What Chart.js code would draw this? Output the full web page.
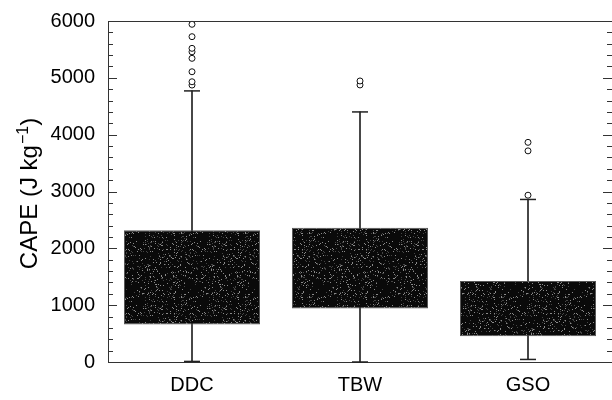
<!DOCTYPE html>
<html>
<head>
<meta charset="utf-8">
<script src="https://cdn.jsdelivr.net/npm/chart.js@4/dist/chart.umd.min.js"></script>
<style>
  html, body { margin: 0; padding: 0; background: #fff; overflow: hidden; }
  #wrap { width: 612px; height: 400px; }
</style>
</head>
<body>
<div id="wrap"><canvas id="c" width="612" height="400"></canvas></div>
<script>
// ---- data ----
const categories = ['DDC', 'TBW', 'GSO'];
const q1 = [660, 940, 455];
const q3 = [2320, 2360, 1425];
const whiskerLow = [10, 0, 45];
const whiskerHigh = [4770, 4400, 2860];
const outliersDDC = [4873, 4931, 5107, 5343, 5458, 5519, 5724, 5942];
const outliersTBW = [4875, 4945];
const outliersGSO = [2935, 3715, 3865];
const yMin = 0, yMax = 6000, yStep = 1000, yMinorStep = 200;
const yTitleMain = 'CAPE (J kg';
const yTitleSup = '\u22121';
const yTitleEnd = ')';

const FONT = "'Liberation Sans', Arial, Helvetica, sans-serif";

// ---- speckled dark fill (style only, deterministic hash) ----
function makePattern() {
  const p = document.createElement('canvas');
  p.width = 64; p.height = 64;
  const g = p.getContext('2d');
  g.fillStyle = '#0a0a0a';
  g.fillRect(0, 0, p.width, p.height);
  for (let i = 0; i < p.width; i++) {
    for (let j = 0; j < p.height; j++) {
      let h = Math.imul(i, 374761393) + Math.imul(j, 668265263);
      h = Math.imul(h ^ (h >>> 13), 1274126177);
      h = (h ^ (h >>> 16)) >>> 0;
      const r = h % 100;
      if (r < 5) { g.fillStyle = '#8a8a8a'; g.fillRect(i, j, 1, 1); }
      else if (r < 11) { g.fillStyle = '#444'; g.fillRect(i, j, 1, 1); }
    }
  }
  return g.createPattern(p, 'repeat');
}
const boxFill = makePattern();

const outlierPoints = []
  .concat(outliersDDC.map(v => ({x: 'DDC', y: v})))
  .concat(outliersTBW.map(v => ({x: 'TBW', y: v})))
  .concat(outliersGSO.map(v => ({x: 'GSO', y: v})));

const frameTicks = {
  id: 'frameTicks',
  afterDatasetsDraw(chart) {
    const {ctx, chartArea: a, scales: {y}} = chart;
    ctx.save();
    ctx.strokeStyle = '#333';
    ctx.lineWidth = 1;
    ctx.beginPath();
    ctx.moveTo(a.left, Math.round(a.top) + 0.5);
    ctx.lineTo(a.right, Math.round(a.top) + 0.5);
    ctx.stroke();
    for (let v = yMin; v <= yMax; v += yMinorStep) {
      const py = Math.round(y.getPixelForValue(v)) + 0.5;
      const major = v % yStep === 0;
      const len = major ? 9 : 5;
      ctx.beginPath();
      ctx.moveTo(a.left, py); ctx.lineTo(a.left + len, py);
      ctx.moveTo(a.right, py); ctx.lineTo(a.right - len, py);
      ctx.stroke();
    }
    ctx.restore();
  }
};

// y-axis title with a real superscript, centred on the y scale
const yTitlePlugin = {
  id: 'yTitle',
  afterDraw(chart) {
    const {ctx, scales: {y}} = chart;
    const mainFont = '24px ' + FONT;
    const supFont = '16px ' + FONT;
    ctx.save();
    ctx.font = mainFont;
    const w1 = ctx.measureText(yTitleMain).width;
    const w3 = ctx.measureText(yTitleEnd).width;
    ctx.font = supFont;
    const w2 = ctx.measureText(yTitleSup).width + 1;
    const total = w1 + w2 + w3;
    const cy = (y.top + y.bottom) / 2 + 2;
    ctx.translate(37, cy);
    ctx.rotate(-Math.PI / 2);
    ctx.fillStyle = '#000';
    ctx.textBaseline = 'alphabetic';
    ctx.textAlign = 'left';
    const x0 = -total / 2;
    ctx.font = mainFont;
    ctx.fillText(yTitleMain, x0, 0);
    ctx.font = supFont;
    ctx.fillText(yTitleSup, x0 + w1 + 1, -9);
    ctx.font = mainFont;
    ctx.fillText(yTitleEnd, x0 + w1 + w2, 0);
    ctx.restore();
  }
};

new Chart(document.getElementById('c'), {
  type: 'bar',
  data: {
    labels: categories,
    datasets: [
      {
        type: 'line', label: 'outliers', data: outlierPoints, showLine: false,
        pointStyle: 'circle', pointRadius: 3, pointBorderWidth: 1,
        pointBorderColor: '#111', pointBackgroundColor: '#fff', clip: false, order: 0
      },
      {
        type: 'line', label: 'upper cap', data: whiskerHigh, showLine: false,
        pointStyle: 'line', pointRadius: 8, pointBorderWidth: 1.5,
        pointBorderColor: '#222', clip: false, order: 0
      },
      {
        type: 'line', label: 'lower cap', data: whiskerLow, showLine: false,
        pointStyle: 'line', pointRadius: 8, pointBorderWidth: 1.5,
        pointBorderColor: '#222', clip: false, order: 0
      },
      {
        label: 'box',
        data: categories.map((c, i) => [q1[i], q3[i]]),
        backgroundColor: boxFill, borderColor: '#555', borderWidth: 1,
        borderSkipped: false, grouped: false,
        barPercentage: 0.81, categoryPercentage: 1.0, order: 1
      },
      {
        label: 'whisker',
        data: categories.map((c, i) => [whiskerLow[i], whiskerHigh[i]]),
        backgroundColor: '#3a3a3a', borderWidth: 0, grouped: false,
        barThickness: 1.2, order: 2
      }
    ]
  },
  options: {
    responsive: false,
    animation: false,
    events: [],
    layout: { autoPadding: false, padding: { top: 21, right: 0, bottom: 0, left: 0 } },
    plugins: { legend: { display: false }, tooltip: { enabled: false }, title: { display: false } },
    scales: {
      x: {
        type: 'category', offset: true,
        grid: { display: false, drawTicks: false },
        border: { display: true, color: '#333', width: 1 },
        ticks: { color: '#000', padding: 11, font: { family: FONT, size: 20 } },
        afterFit(s) { s.height = 38; s.paddingLeft = 0; s.paddingRight = 0; }
      },
      y: {
        min: yMin, max: yMax,
        grid: { display: false, drawTicks: false },
        border: { display: true, color: '#333', width: 1 },
        ticks: {
          stepSize: yStep, color: '#000', padding: 13,
          font: { family: FONT, size: 20 },
          callback: v => String(v)
        },
        title: { display: false },
        afterFit(s) { s.width = 108; s.paddingTop = 0; s.paddingBottom = 0; }
      }
    }
  },
  plugins: [frameTicks, yTitlePlugin]
});
</script>
</body>
</html>
